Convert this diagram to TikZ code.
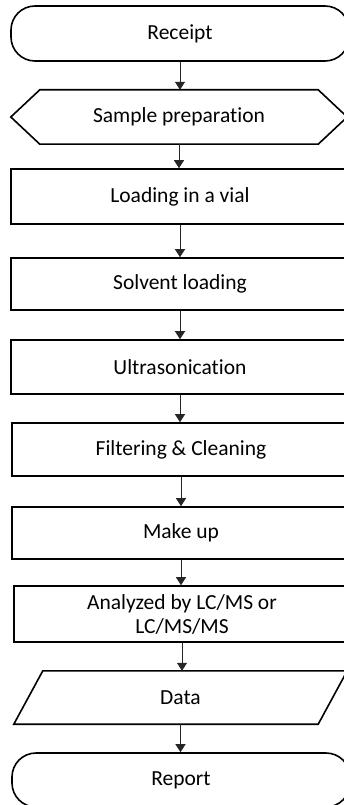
\documentclass[tikz,border=0pt]{standalone}
\usepackage{fontspec}
\setmainfont{Carlito}[Ligatures=NoCommon]
\usetikzlibrary{arrows.meta}
\begin{document}
\begin{tikzpicture}[x=1pt,y=-1pt,
  box/.style={draw=black, line width=1.6pt, rectangle, inner sep=0pt, font=\fontsize{21.5}{24}\selectfont, align=center},
  term/.style={box, rounded corners=24pt},
  ghost/.style={rectangle, inner sep=0pt, font=\fontsize{21.5}{24}\selectfont, align=center},
  outline/.style={draw=black, line width=1.6pt, line join=miter},
  flow/.style={draw=black!85, line width=1pt, -{Triangle[width=10pt,length=8pt]}}]
\useasboundingbox (0,0) rectangle (343,805);
\node[term, minimum width=338pt, minimum height=55pt] (receipt) at (180,33.5) {Receipt};
\node[ghost, minimum width=278pt, minimum height=54pt] (prep) at (179,117) {Sample preparation};
\draw[outline] (prep.north west) -- (prep.north east) -- ([xshift=29pt]prep.east) -- (prep.south east) -- (prep.south west) -- ([xshift=-29pt]prep.west) -- cycle;
\node[box, minimum width=338pt, minimum height=55pt] (load) at (180,196.5) {Loading in a vial};
\node[box, minimum width=338pt, minimum height=52pt] (solvent) at (180,284) {Solvent loading};
\node[box, minimum width=338pt, minimum height=54pt] (ultra) at (180,367) {Ultrasonication};
\node[box, minimum width=338pt, minimum height=53pt] (filter) at (181,449.5) {Filtering \& Cleaning};
\node[box, minimum width=338pt, minimum height=52pt] (makeup) at (181,533) {Make up};
\node[box, minimum width=336pt, minimum height=56pt] (analyzed) at (182,614) {Analyzed by LC/MS or\\LC/MS/MS};
\node[ghost, minimum width=304pt, minimum height=53pt] (data) at (180.5,697.5) {Data};
\draw[outline] ([xshift=14.5pt]data.north west) -- ([xshift=14.5pt]data.north east) -- ([xshift=-14.5pt]data.south east) -- ([xshift=-14.5pt]data.south west) -- cycle;
\node[term, minimum width=338pt, minimum height=54pt] (report) at (181,780) {Report};
\draw[flow] (receipt.south) -- (receipt.south |- prep.north);
\draw[flow] (prep.south) -- (prep.south |- load.north);
\draw[flow] (load.south) -- (load.south |- solvent.north);
\draw[flow] (solvent.south) -- (solvent.south |- ultra.north);
\draw[flow] (ultra.south) -- (ultra.south |- filter.north);
\draw[flow] (filter.south) -- (filter.south |- makeup.north);
\draw[flow] (makeup.south) -- (makeup.south |- analyzed.north);
\draw[flow] (analyzed.south) -- (analyzed.south |- data.north);
\draw[flow] (data.south) -- (data.south |- report.north);
\end{tikzpicture}
\end{document}
